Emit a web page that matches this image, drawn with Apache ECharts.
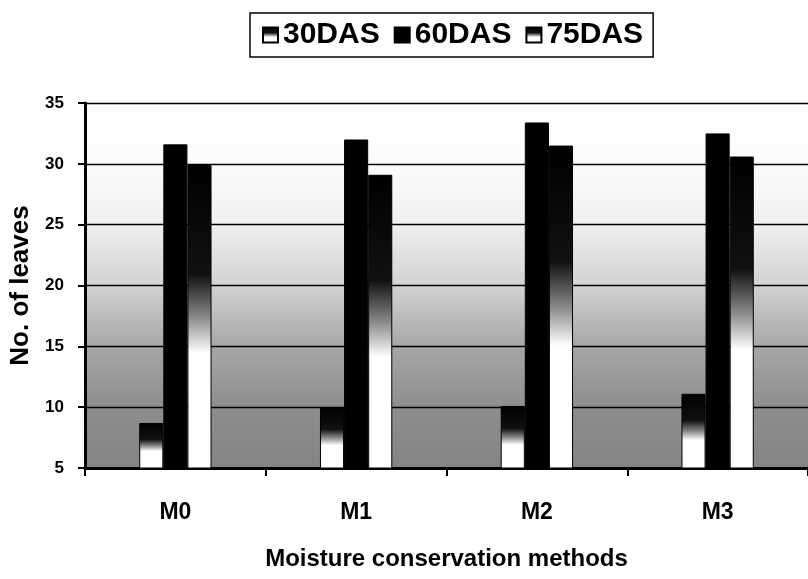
<!DOCTYPE html>
<html>
<head>
<meta charset="utf-8">
<title>No. of leaves</title>
<script src="https://cdn.jsdelivr.net/npm/echarts@6/dist/echarts.min.js"></script>
<style>
html, body { margin: 0; padding: 0; background: #fff; }
#main { width: 808px; height: 579px; }
</style>
</head>
<body>
<div id="main"></div>
<script>
var methods = ['M0', 'M1', 'M2', 'M3'];
var das30 = [8.7, 10.0, 10.1, 11.1];
var das60 = [31.6, 32.0, 33.4, 32.5];
var das75 = [29.9, 29.1, 31.5, 30.6];
var legends = ['30DAS', '60DAS', '75DAS'];
var yTicks = [5, 35, 5]; // min, max, step

var font = 'Liberation Sans, Arial, sans-serif';

// bars fade from black at the top to white lower down
function fadeBar() {
	return new echarts.graphic.LinearGradient(0, 0, 0, 1, [
		{offset: 0, color: '#000'},
		{offset: 0.36, color: '#111'},
		{offset: 0.5, color: '#888'},
		{offset: 0.62, color: '#fff'},
		{offset: 1, color: '#fff'}
	]);
}

function makeSeries(name, values, fill) {
	return {
		name: name,
		type: 'bar',
		data: values,
		barGap: '0%',
		barCategoryGap: '60%',
		itemStyle: {
			color: fill,
			borderColor: '#000',
			borderWidth: 1
		}
	};
}

var myChart = echarts.init(document.getElementById('main'));
var option = {
	animation: false,
	textStyle: {fontFamily: font},
	legend: {
		data: legends,
		left: 250,
		top: 13,
		orient: 'horizontal',
		icon: 'rect',
		itemWidth: 15,
		itemHeight: 15,
		itemGap: 14,
		padding: [7, 10, 7, 12],
		borderColor: '#000',
		borderWidth: 1.5,
		textStyle: {fontSize: 30, fontWeight: 'bold', color: '#000', fontFamily: font}
	},
	grid: {
		left: 85,
		right: 0,
		top: 103,
		bottom: 111,
		show: true,
		borderWidth: 0,
		backgroundColor: new echarts.graphic.LinearGradient(0, 0, 0, 1, [
			{offset: 0, color: '#ffffff'},
			{offset: 0.17, color: '#fcfcfc'},
			{offset: 0.33, color: '#f0f0f0'},
			{offset: 0.5, color: '#d2d2d2'},
			{offset: 0.67, color: '#a6a6a6'},
			{offset: 0.83, color: '#8e8e8e'},
			{offset: 1, color: '#848484'}
		])
	},
	xAxis: {
		type: 'category',
		data: methods,
		name: 'Moisture conservation methods',
		nameLocation: 'middle',
		nameGap: 79,
		nameTextStyle: {fontSize: 24, fontWeight: 'bold', color: '#000', fontFamily: font},
		axisLine: {lineStyle: {color: '#000', width: 3}},
		axisTick: {show: true, length: 8, lineStyle: {color: '#000', width: 2}},
		axisLabel: {margin: 33, fontSize: 23, fontWeight: 'bold', color: '#000', fontFamily: font},
		splitLine: {show: false}
	},
	yAxis: {
		type: 'value',
		min: yTicks[0],
		max: yTicks[1],
		interval: yTicks[2],
		name: 'No. of leaves',
		nameLocation: 'middle',
		nameGap: 50,
		nameTextStyle: {fontSize: 26, fontWeight: 'bold', color: '#000', fontFamily: font},
		axisLine: {show: true, lineStyle: {color: '#000', width: 3}},
		axisTick: {show: true, length: 7, lineStyle: {color: '#000', width: 2}},
		axisLabel: {margin: 21, fontSize: 17, fontWeight: 'bold', color: '#000', fontFamily: font},
		splitLine: {show: true, lineStyle: {color: '#000', width: 1.3}}
	},
	series: [
		makeSeries(legends[0], das30, fadeBar()),
		makeSeries(legends[1], das60, '#000'),
		makeSeries(legends[2], das75, fadeBar())
	]
};
myChart.setOption(option);
</script>
</body>
</html>
